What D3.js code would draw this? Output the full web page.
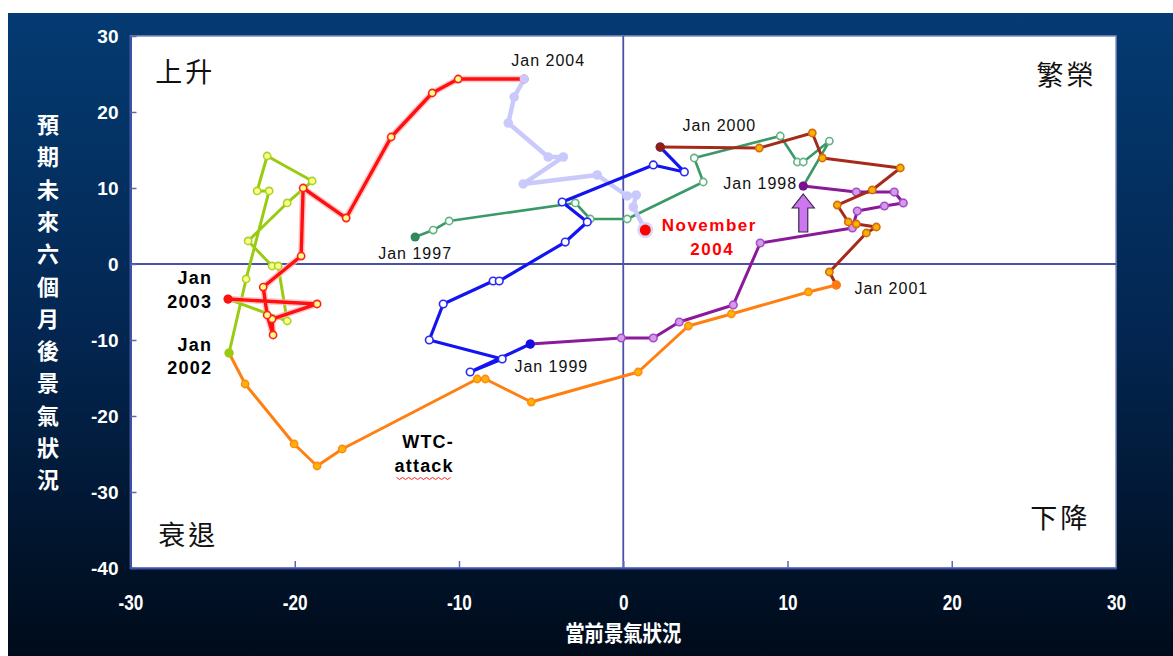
<!DOCTYPE html>
<html><head><meta charset="utf-8">
<script src="https://cdn.jsdelivr.net/npm/d3@7"></script>
<style>body{margin:0;background:#fff;}svg{display:block}</style>
</head><body>
<svg id="c" width="1173" height="656"></svg>
<script>
// ---------- data ----------
const xTicks = [-30, -20, -10, 0, 10, 20, 30];
const yTicks = [30, 20, 10, 0, -10, -20, -30, -40];
const xTitle = "當前景氣狀況";
const yTitle = "預期未來六個月後景氣狀況";

// [current situation, expectations] per month, each series Jan -> Jan of next year
const s1997 = [[-12.67,3.55],[-11.57,4.47],[-10.60,5.66],[-2.92,8.03],[-2.01,5.92],[0.24,5.92],[4.87,10.79],[4.32,13.95],[9.56,16.84],[10.60,13.42],[10.96,13.42],[12.55,16.18],[10.96,10.26]];
const s1998 = [[10.96,10.26],[14.19,9.47],[16.50,9.47],[17.05,8.03],[15.90,7.63],[14.25,6.97],[13.95,4.74],[8.34,2.76],[6.70,-5.39],[3.41,-7.63],[1.83,-9.74],[-0.12,-9.74],[-5.66,-10.53]];
const s1999 = [[-5.66,-10.53],[-9.32,-14.21],[-7.37,-12.50],[-11.81,-10.00],[-10.96,-5.26],[-7.92,-2.24],[-7.55,-2.24],[-3.53,2.89],[-2.19,5.53],[-3.72,8.16],[1.83,13.03],[3.72,12.11],[2.25,15.39]];
const s2000 = [[2.25,15.39],[8.28,15.26],[11.51,17.24],[12.12,13.95],[16.87,12.63],[15.16,9.74],[13.03,7.76],[13.70,5.53],[14.19,5.26],[15.41,4.87],[14.80,4.08],[12.55,-1.05],[12.97,-2.76]];
const s2001 = [[12.97,-2.76],[11.27,-3.68],[6.58,-6.58],[3.96,-8.16],[0.91,-14.21],[-5.60,-18.16],[-8.40,-15.13],[-8.89,-15.13],[-17.11,-24.34],[-18.64,-26.58],[-20.04,-23.68],[-23.02,-15.79],[-24.00,-11.71]];
const s2002 = [[-24.00,-11.71],[-22.96,-1.97],[-21.56,9.61],[-22.29,9.61],[-21.68,14.21],[-18.94,10.92],[-20.46,8.03],[-22.84,3.03],[-21.38,-0.26],[-21.01,-0.26],[-20.46,-7.50],[-24.06,-4.61]];
const s2003 = [[-24.06,-4.61],[-18.64,-5.26],[-21.38,-7.24],[-21.32,-9.34],[-21.68,-6.71],[-21.92,-3.03],[-19.61,1.05],[-19.49,10.00],[-16.87,6.05],[-14.13,16.71],[-11.63,22.50],[-10.05,24.34],[-6.03,24.34]];
const s2004 = [[-6.03,24.34],[-6.64,21.97],[-7.00,18.55],[-4.57,14.08],[-3.65,14.08],[-6.09,10.53],[-1.58,11.71],[0.24,8.95],[0.79,9.08],[0.61,7.50]];
const nov2004 = [1.34, 4.47];

// annotation anchors (data coordinates)
const yearLabels = [
  {t:"Jan 2004", p:[-4.57,26.84]},
  {t:"Jan 2000", p:[5.85,18.29]},
  {t:"Jan 1998", p:[8.34,10.66]},
  {t:"Jan 1997", p:[-12.67,1.45]},
  {t:"Jan 1999", p:[-4.38,-13.42]},
  {t:"Jan 2001", p:[16.32,-3.16]}
];
const boldLabels = [
  {t:"Jan", p:[-25.03,-1.84], a:"end"},
  {t:"2003", p:[-25.03,-5.00], a:"end"},
  {t:"Jan", p:[-25.03,-10.66], a:"end"},
  {t:"2002", p:[-25.03,-13.68], a:"end"},
  {t:"WTC-", p:[-11.88,-23.42], a:"middle"},
  {t:"attack", p:[-12.12,-26.58], a:"middle", id:"wtc"}
];
const novLabels = [{t:"November", p:[5.24,5.13]},{t:"2004", p:[5.42,1.97]}];
const quadLabels = [
  {t:"上升", p:[-26.67,25.26]},
  {t:"繁榮", p:[26.98,24.87]},
  {t:"衰退", p:[-26.49,-35.66]},
  {t:"下降", p:[26.61,-33.42]}
];
const arrowAnchor = {x:10.96, tip:9.21, neck:7.37, base:4.21};

// ---------- layout ----------
const svg = d3.select("#c");
const W = 1173, H = 656;
const plot = {l:130.5, r:1116, t:36, b:568};
const x = d3.scaleLinear().domain([-30,30]).range([plot.l, plot.r]);
const y = d3.scaleLinear().domain([-40,30]).range([plot.b, plot.t]);

const defs = svg.append("defs");
const g = defs.append("linearGradient").attr("id","bg").attr("x1",0).attr("x2",0).attr("y1",0).attr("y2",1);
g.append("stop").attr("offset","0").attr("stop-color","#043b72");
g.append("stop").attr("offset","0.5").attr("stop-color","#032651");
g.append("stop").attr("offset","1").attr("stop-color","#000b1a");

svg.append("rect").attr("x",8).attr("y",13).attr("width",W-8).attr("height",H-13).attr("fill","url(#bg)");
svg.append("rect").attr("x",plot.l).attr("y",plot.t).attr("width",plot.r-plot.l).attr("height",plot.b-plot.t)
   .attr("fill","#fff").attr("stroke","#7f8cc4").attr("stroke-width",1.5);

// zero lines
svg.append("line").attr("x1",x(0)).attr("x2",x(0)).attr("y1",plot.t).attr("y2",plot.b).attr("stroke","#4a52a8").attr("stroke-width",1.8);
svg.append("line").attr("x1",plot.l).attr("x2",plot.r).attr("y1",y(0)).attr("y2",y(0)).attr("stroke","#4a52a8").attr("stroke-width",1.8);

// axes
const fmt = d => String(d);
const ya = svg.append("g").attr("transform",`translate(${plot.l},0)`)
  .call(d3.axisLeft(y).tickValues(yTicks).tickFormat(fmt).tickSizeInner(-6).tickSizeOuter(0).tickPadding(12));
const xa = svg.append("g").attr("transform",`translate(0,${plot.b})`)
  .call(d3.axisBottom(x).tickValues(xTicks).tickFormat(fmt).tickSizeInner(-7).tickSizeOuter(0).tickPadding(26));
[ya,xa].forEach(a=>{
  a.select(".domain").attr("stroke","#4050a8").attr("stroke-width",2);
  a.selectAll(".tick line").attr("stroke","#5a68bb").attr("stroke-width",1.5);
});
ya.selectAll(".tick text").attr("fill","#fff").attr("font-family","Liberation Sans, Arial, sans-serif")
  .attr("font-weight","bold").attr("font-size",19);
xa.selectAll(".tick text").attr("fill","#fff").attr("font-family","Liberation Sans, Arial, sans-serif")
  .attr("font-weight","bold").attr("font-size",22).attr("transform","scale(0.78,1)");
xa.selectAll(".tick").filter(d=>d===30||d===-30).select("line").remove();

// axis titles
svg.append("text").attr("x",x(0)).attr("y",641).attr("text-anchor","middle")
  .attr("transform",`translate(${x(0)},0) scale(0.88,1) translate(${-x(0)},0)`)
  .attr("fill","#fff").attr("font-family","'Noto Sans CJK TC', sans-serif").attr("font-weight","bold").attr("font-size",22)
  .text(xTitle);
const yt = svg.append("text").attr("fill","#fff").attr("font-family","'Noto Sans CJK TC', sans-serif")
  .attr("font-weight","bold").attr("font-size",22).attr("text-anchor","middle");
yt.selectAll("tspan").data(Array.from(yTitle)).join("tspan")
  .attr("x",48).attr("y",(d,i)=>133 + i*32.3).text(d=>d);

// series
const series = [
  {d:s2004, c:"#c9c9fb", w:4.5, mf:"#c9c9fb", ms:"#c9c9fb", sf:"#c9c9fb", r:4},
  {d:s1997, c:"#3a9966", w:2.6, mf:"#ffffff", ms:"#63b584", sf:"#2f8a58", r:3.6},
  {d:s1998, c:"#8a1a9a", w:3, mf:"#d59af0", ms:"#a24ec4", sf:"#7a1090", r:3.8},
  {d:s1999, c:"#1414f0", w:3.2, mf:"#ffffff", ms:"#2a2af5", sf:"#1010e0", r:3.8},
  {d:s2000, c:"#a52a1a", w:3, mf:"#f6b400", ms:"#d86a10", sf:"#8e1f12", r:3.6},
  {d:s2001, c:"#ff7f10", w:3, mf:"#ffb400", ms:"#ff8a1a", sf:"#ff7a10", r:3.6},
  {d:s2002, c:"#99cc11", w:3, mf:"#ffff88", ms:"#a8d42a", sf:"#99cc11", r:3.6},
  {d:s2003, c:"#ff1010", w:3.4, mf:"#ffff88", ms:"#ff2020", sf:"#ff1010", r:3.6, halo:"#ffb0b0"}
];
const line = d3.line().x(d=>x(d[0])).y(d=>y(d[1]));
series.forEach(s=>{
  const gg = svg.append("g");
  if (s.halo) gg.append("path").attr("d",line(s.d)).attr("fill","none").attr("stroke",s.halo)
      .attr("stroke-width",s.w+3).attr("stroke-linejoin","round").attr("opacity",0.7);
  gg.append("path").attr("d",line(s.d)).attr("fill","none").attr("stroke",s.c)
    .attr("stroke-width",s.w).attr("stroke-linejoin","round").attr("stroke-linecap","round");
  gg.selectAll("circle").data(s.d.slice(1)).join("circle")
    .attr("cx",d=>x(d[0])).attr("cy",d=>y(d[1])).attr("r",s.r)
    .attr("fill",s.mf).attr("stroke",s.ms).attr("stroke-width",1.6);
});
// January start markers drawn on top
series.forEach(s=>{
  svg.append("circle").attr("cx",x(s.d[0][0])).attr("cy",y(s.d[0][1])).attr("r",4.6).attr("fill",s.sf);
});
// lavender line into November 2004
svg.append("path").attr("d",line([s2004[s2004.length-1], nov2004])).attr("stroke","#c9c9fb").attr("stroke-width",4.5).attr("fill","none");
svg.append("circle").attr("cx",x(nov2004[0])).attr("cy",y(nov2004[1])).attr("r",8).attr("fill","#d6d6fb");
svg.append("circle").attr("cx",x(nov2004[0])).attr("cy",y(nov2004[1])).attr("r",5.5).attr("fill","#ff0000");

// arrow
const ax = x(arrowAnchor.x), hw = 11, sw = 4.5;
const ap = [[ax,y(arrowAnchor.tip)],[ax+hw,y(arrowAnchor.neck)],[ax+sw,y(arrowAnchor.neck)],[ax+sw,y(arrowAnchor.base)],
            [ax-sw,y(arrowAnchor.base)],[ax-sw,y(arrowAnchor.neck)],[ax-hw,y(arrowAnchor.neck)]];
svg.append("path").attr("d","M"+ap.map(p=>p.join(",")).join("L")+"Z")
  .attr("fill","#cc77f0").attr("stroke","#3a2a4a").attr("stroke-width",1.2);

// labels
svg.selectAll(".yl").data(yearLabels).join("text").attr("class","yl")
  .attr("x",d=>x(d.p[0])).attr("y",d=>y(d.p[1])).attr("dy","0.36em").attr("text-anchor","middle")
  .attr("font-family","Liberation Sans, Arial, sans-serif").attr("font-size",16).attr("letter-spacing",1)
  .attr("fill","#111").text(d=>d.t);
svg.selectAll(".bl").data(boldLabels).join("text").attr("class","bl")
  .attr("x",d=>x(d.p[0])).attr("y",d=>y(d.p[1])).attr("dy","0.36em").attr("text-anchor",d=>d.a)
  .attr("id",d=>d.id||null)
  .attr("font-family","Liberation Sans, Arial, sans-serif").attr("font-weight","bold").attr("font-size",18).attr("letter-spacing",1.2)
  .attr("fill","#000").text(d=>d.t);
svg.selectAll(".nl").data(novLabels).join("text").attr("class","nl")
  .attr("x",d=>x(d.p[0])).attr("y",d=>y(d.p[1])).attr("dy","0.36em").attr("text-anchor","middle")
  .attr("font-family","Liberation Sans, Arial, sans-serif").attr("font-weight","bold").attr("font-size",17).attr("letter-spacing",1.5)
  .attr("fill","#ff0000").text(d=>d.t);
svg.selectAll(".ql").data(quadLabels).join("text").attr("class","ql")
  .attr("x",d=>x(d.p[0])).attr("y",d=>y(d.p[1])).attr("dy","0.36em").attr("text-anchor","middle")
  .attr("font-family","'Noto Sans CJK TC', sans-serif").attr("font-size",27).attr("letter-spacing",3)
  .attr("fill","#111").text(d=>d.t);

// spell-check squiggle under "attack"
const bb = document.getElementById("wtc").getBBox();
const zz = d3.range(bb.x+2, bb.x+bb.width-2, 3).map((v,i)=>[v, bb.y+bb.height+1 + (i%2?2:0)]);
svg.append("path").attr("d",d3.line()(zz)).attr("fill","none").attr("stroke","#ff2020").attr("stroke-width",1);
</script>
</body></html>
